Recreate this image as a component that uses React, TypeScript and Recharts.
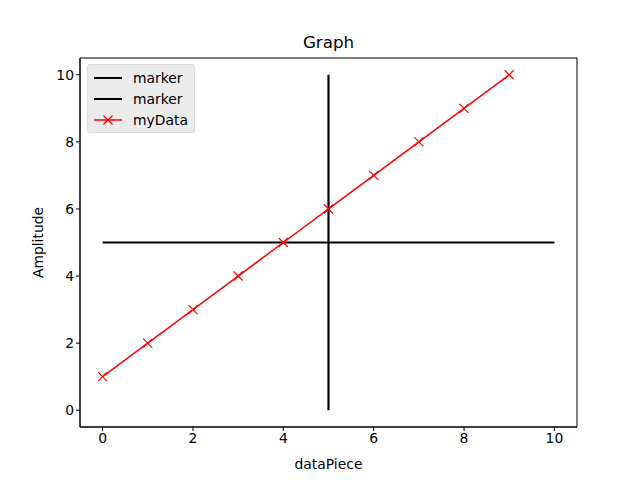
import React from "react";
import {
  LineChart,
  Line,
  XAxis,
  YAxis,
  ReferenceArea,
} from "recharts";

const dataX = [0, 1, 2, 3, 4, 5, 6, 7, 8, 9];
const dataY = [1, 2, 3, 4, 5, 6, 7, 8, 9, 10];
const hMarkerX = [0, 10];
const hMarkerY = [5, 5];
const vMarkerX = [5, 5];
const vMarkerY = [0, 10];
const xTicks = [0, 2, 4, 6, 8, 10];
const yTicks = [0, 2, 4, 6, 8, 10];

const myData = dataX.map((x, i) => ({ x, y: dataY[i] }));
const hMarker = hMarkerX.map((x, i) => ({ x, y: hMarkerY[i] }));
const vMarker = vMarkerX.map((x, i) => ({ x, y: vMarkerY[i] }));

const FONT = "DejaVu Sans, sans-serif";

const CrossDot = (props: any) => {
  const { cx, cy } = props;
  if (cx == null || cy == null) return null;
  const s = 4.5;
  return (
    <g>
      <line x1={cx - s} y1={cy - s} x2={cx + s} y2={cy + s} stroke="#ff0000" strokeWidth={1.2} />
      <line x1={cx - s} y1={cy + s} x2={cx + s} y2={cy - s} stroke="#ff0000" strokeWidth={1.2} />
    </g>
  );
};

const legendItems = [
  { label: "marker", color: "#000000", width: 2, cross: false },
  { label: "marker", color: "#000000", width: 2, cross: false },
  { label: "myData", color: "#ff0000", width: 1.5, cross: true },
];

const LegendBox = () => (
  <div
    style={{
      position: "absolute",
      left: 87,
      top: 64,
      background: "rgba(232,232,232,0.85)",
      border: "1px solid #dcdcdc",
      borderRadius: 3,
      padding: "2px 6px 2px 5px",
      fontFamily: FONT,
      fontSize: 13.9,
      color: "#000",
    }}
  >
    {legendItems.map((it, i) => (
      <div key={i} style={{ display: "flex", alignItems: "center", height: 21 }}>
        <svg width={30} height={14} style={{ marginRight: 10 }}>
          <line x1={1} y1={7} x2={29} y2={7} stroke={it.color} strokeWidth={it.width} />
          {it.cross && (
            <g>
              <line x1={10.5} y1={2.5} x2={19.5} y2={11.5} stroke={it.color} strokeWidth={1.2} />
              <line x1={10.5} y1={11.5} x2={19.5} y2={2.5} stroke={it.color} strokeWidth={1.2} />
            </g>
          )}
        </svg>
        <span>{it.label}</span>
      </div>
    ))}
  </div>
);

export default function App() {
  return (
    <div style={{ position: "absolute", left: 0, top: 0, width: 640, height: 480, background: "#fff" }}>
      <div
        style={{
          position: "absolute",
          top: 32,
          left: 80,
          width: 497,
          textAlign: "center",
          fontFamily: FONT,
          fontSize: 16.7,
        }}
      >
        Graph
      </div>
      <LineChart
        width={640}
        height={480}
        margin={{ top: 58, right: 63, left: 40, bottom: 23 }}
        style={{ fontFamily: FONT }}
      >
        <XAxis
          dataKey="x"
          type="number"
          domain={[-0.5, 10.5]}
          ticks={xTicks}
          allowDataOverflow
          height={30}
          tickSize={4}
          stroke="#000"
          tick={{ fill: "#000", fontSize: 13.9 }}
          label={{ value: "dataPiece", position: "insideBottom", offset: -12, fill: "#000", fontSize: 13.9 }}
        />
        <YAxis
          dataKey="y"
          type="number"
          domain={[-0.5, 10.5]}
          ticks={yTicks}
          allowDataOverflow
          width={40}
          tickSize={4}
          stroke="#000"
          tick={{ fill: "#000", fontSize: 13.9 }}
          label={{ value: "Amplitude", angle: -90, position: "insideLeft", offset: -2, fill: "#000", fontSize: 13.9, style: { textAnchor: "middle" } }}
        />
        <ReferenceArea x1={-0.5} x2={10.5} y1={-0.5} y2={10.5} fill="none" stroke="#000" strokeWidth={1} ifOverflow="visible" />
        <Line data={hMarker} dataKey="y" stroke="#000" strokeWidth={2.2} dot={false} isAnimationActive={false} />
        <Line data={vMarker} dataKey="y" stroke="#000" strokeWidth={2.2} dot={false} isAnimationActive={false} />
        <Line data={myData} dataKey="y" stroke="#ff0000" strokeWidth={1.5} dot={<CrossDot />} activeDot={false} isAnimationActive={false} />
      </LineChart>
      <LegendBox />
    </div>
  );
}
